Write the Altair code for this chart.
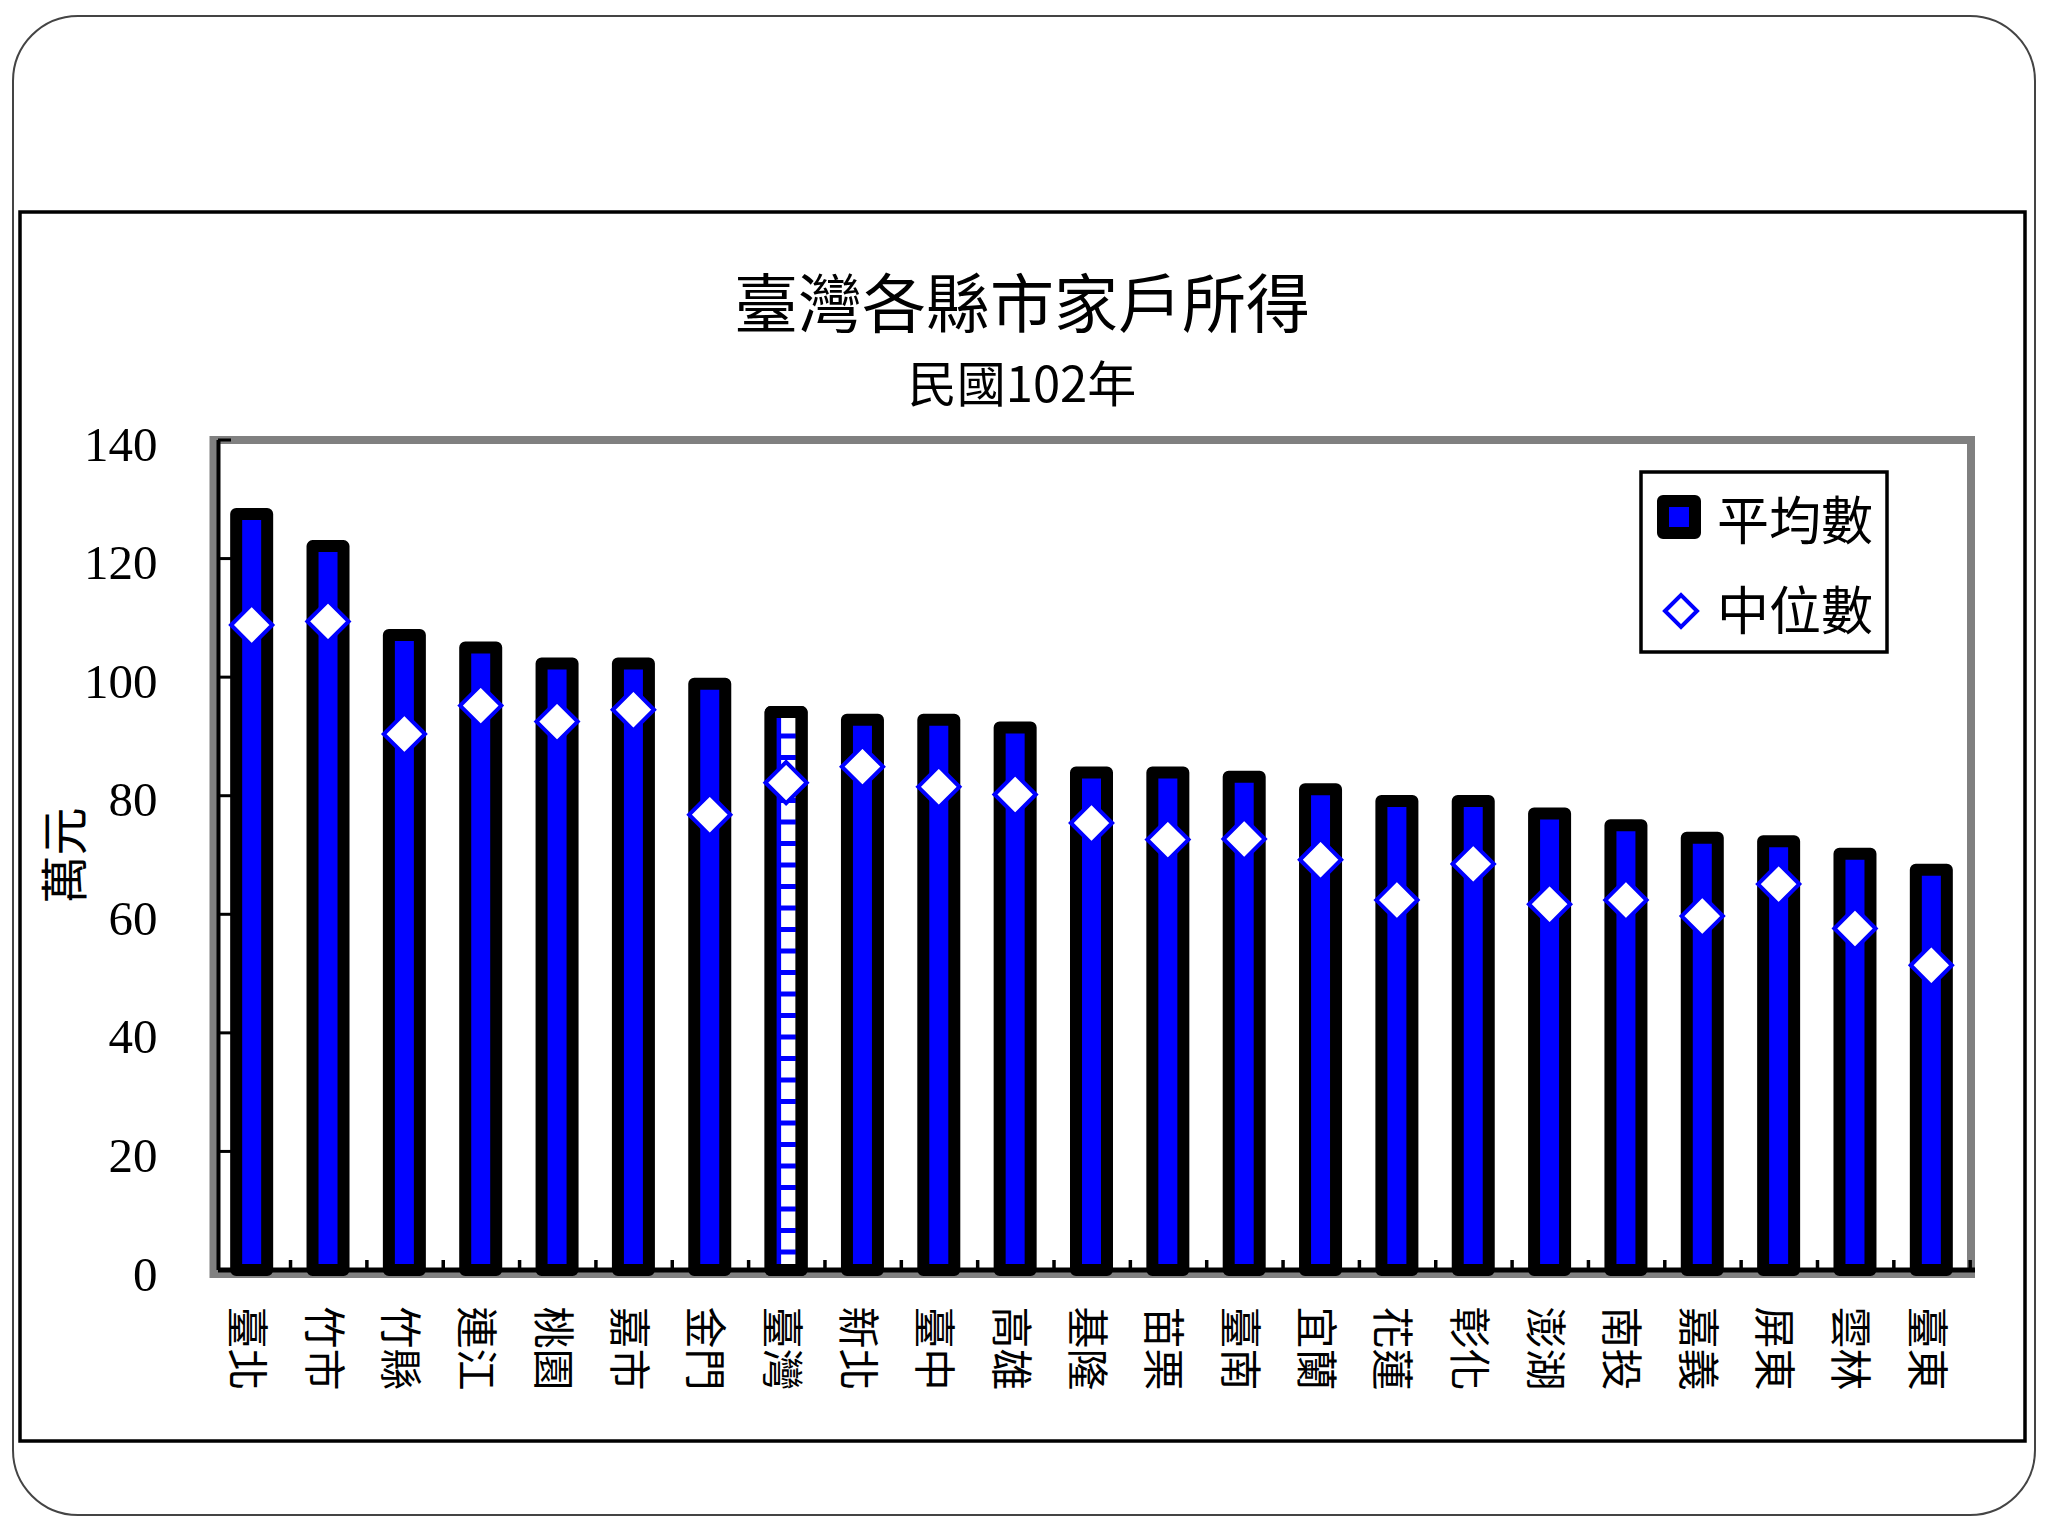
import altair as alt
import pandas as pd

# ---- data ----
categories = ["臺北", "竹市", "竹縣", "連江", "桃園", "嘉市", "金門", "臺灣", "新北", "臺中",
              "高雄", "基隆", "苗栗", "臺南", "宜蘭", "花蓮", "彰化", "澎湖", "南投", "嘉義",
              "屏東", "雲林", "臺東"]
mean_values = [127.5, 122.1, 107.1, 105.0, 102.3, 102.3, 98.9, 94.1, 92.8, 92.8,
               91.5, 83.9, 83.9, 83.2, 81.1, 79.1, 79.1, 77.0, 75.0, 72.9,
               72.3, 70.2, 67.5]
median_values = [108.8, 109.4, 90.4, 95.2, 92.5, 94.5, 76.8, 82.2, 84.9, 81.5,
                 80.2, 75.4, 72.6, 72.7, 69.2, 62.4, 68.5, 61.7, 62.4, 59.7,
                 65.1, 57.6, 51.4]
y_ticks = [0, 20, 40, 60, 80, 100, 120, 140]
series_names = ["平均數", "中位數"]
title_text = "臺灣各縣市家戶所得"
subtitle_text = "民國102年"
y_title = "萬元"
highlight = "臺灣"

# ---- styling / layout ----
CJK = "Noto Sans CJK TC"
SERIF = "Liberation Serif"
BLUE = "#0000FF"
W, H = 1756, 830
BAR = 31
BSTROKE = 12
SHIFT = -4.5

df = pd.DataFrame({"cat": categories, "mean": mean_values, "median": median_values})
one = alt.Data(values=[{}])

yscale = alt.Scale(domain=[0, 140], nice=False, zero=True)
xaxis = alt.Axis(title=None, labelAngle=90, labelFont=CJK, labelFontSize=42, labelColor="black",
                 labelPadding=36, ticks=False, tickSize=0, domain=False, grid=False, labelOffset=-11)
yaxis = alt.Axis(title=y_title, values=y_ticks, labelFont=SERIF, labelFontSize=49, labelColor="black",
                 labelPadding=61, labelOffset=5, ticks=False, tickSize=0, domain=False, grid=False,
                 titleFont=CJK, titleFontSize=48, titleFontWeight="normal", titleColor="black",
                 titleAngle=270, titleX=-151, titleY=415, titleAlign="center", titleBaseline="middle")


def X(**kw):
    return alt.X("cat:N", sort=categories, axis=xaxis, **kw)


def Y(field):
    return alt.Y(field, scale=yscale, axis=yaxis)


# decorative frames
slide = alt.Chart(one).mark_rect(fillOpacity=0, stroke="#444444", strokeWidth=2, cornerRadius=65).encode(
    x=alt.value(-205), x2=alt.value(1817), y=alt.value(-424), y2=alt.value(1075))
frame = alt.Chart(one).mark_rect(fillOpacity=0, stroke="black", strokeWidth=3.5).encode(
    x=alt.value(-198), x2=alt.value(1807), y=alt.value(-228), y2=alt.value(1001))
title = alt.Chart(one).mark_text(font=CJK, fontSize=64, align="center", baseline="middle", color="black").encode(
    x=alt.value(804), y=alt.value(-132), text=alt.value(title_text))
subtitle = alt.Chart(one).mark_text(font=CJK, fontSize=49, align="center", baseline="middle", color="black").encode(
    x=alt.value(804), y=alt.value(-53), text=alt.value(subtitle_text))
plotframe = alt.Chart(one).mark_rect(fillOpacity=0, stroke="#808080", strokeWidth=8).encode(
    x=alt.value(-4.5), x2=alt.value(W - 3), y=alt.value(0), y2=alt.value(H + 4))

# bars
bars = alt.Chart(df).mark_bar(size=BAR, stroke="black", strokeWidth=BSTROKE, strokeJoin="round",
                              xOffset=SHIFT).encode(
    x=X(), y=Y("mean:Q"),
    fill=alt.condition(alt.datum.cat == highlight, alt.value("white"), alt.value(BLUE)),
)

# hatched pattern for the highlight bar
hl = alt.Chart(df).transform_filter(alt.datum.cat == highlight)
stripes = hl.mark_rule(strokeWidth=20, strokeDash=[5, 16.5], color=BLUE, strokeCap="butt",
                       xOffset=SHIFT).encode(
    x=X(), y=Y("mean:Q"), y2=alt.datum(0))
leftstrip = hl.mark_rule(strokeWidth=5, color=BLUE, xOffset=SHIFT - 7.5, strokeCap="butt").encode(
    x=X(), y=Y("mean:Q"), y2=alt.datum(0))
outline = hl.mark_bar(size=BAR, fillOpacity=0, stroke="black", strokeWidth=BSTROKE, strokeJoin="round",
                      xOffset=SHIFT).encode(
    x=X(), y=Y("mean:Q"))

# axis lines and inward ticks
ytick_rules = alt.Chart(pd.DataFrame({"t": y_ticks})).mark_rule(color="black", strokeWidth=3).encode(
    y=Y("t:Q"), x=alt.value(0), x2=alt.value(13))
xtick_rules = alt.Chart(df).mark_rule(color="black", strokeWidth=3.5).encode(
    x=X(bandPosition=1), y=alt.value(H), y2=alt.value(H - 10))
yaxis_line = alt.Chart(one).mark_rule(color="black", strokeWidth=4).encode(
    x=alt.value(0.5), y=alt.value(0), y2=alt.value(H))
xaxis_line = alt.Chart(one).mark_rule(color="black", strokeWidth=5).encode(
    x=alt.value(0), x2=alt.value(W + 1), y=alt.value(H))

# median diamonds
points = alt.Chart(df).mark_point(shape="diamond", filled=True, fill="white", stroke=BLUE, strokeWidth=4,
                                  size=1700, opacity=1, xOffset=SHIFT).encode(
    x=X(), y=Y("median:Q"))

# legend
lg_box = alt.Chart(one).mark_rect(fill="white", stroke="black", strokeWidth=3.5).encode(
    x=alt.value(1423), x2=alt.value(1669), y=alt.value(32), y2=alt.value(212))
lg_sq = alt.Chart(one).mark_point(shape="square", filled=True, fill=BLUE, stroke="black", strokeWidth=12,
                                  strokeJoin="round", size=1024, opacity=1).encode(
    x=alt.value(1461), y=alt.value(77))
lg_dm = alt.Chart(one).mark_point(shape="diamond", filled=True, fill="white", stroke=BLUE, strokeWidth=4,
                                  size=1024, opacity=1).encode(
    x=alt.value(1463), y=alt.value(171))
lg_t1 = alt.Chart(one).mark_text(font=CJK, fontSize=52, align="left", baseline="middle", color="black").encode(
    x=alt.value(1499), y=alt.value(84), text=alt.value(series_names[0]))
lg_t2 = alt.Chart(one).mark_text(font=CJK, fontSize=52, align="left", baseline="middle", color="black").encode(
    x=alt.value(1499), y=alt.value(174), text=alt.value(series_names[1]))

chart = alt.layer(
    slide, frame, title, subtitle, plotframe,
    bars, stripes, leftstrip, outline,
    ytick_rules, xtick_rules, yaxis_line, xaxis_line,
    points,
    lg_box, lg_sq, lg_dm, lg_t1, lg_t2,
).properties(
    width=W, height=H,
    autosize=alt.AutoSizeParams(type="none"),
    padding={"left": 210, "top": 432, "right": 66, "bottom": 266},
    background="white",
).configure_view(stroke=None)

chart.save("out.html", embed_options={"renderer": "svg", "actions": False})
